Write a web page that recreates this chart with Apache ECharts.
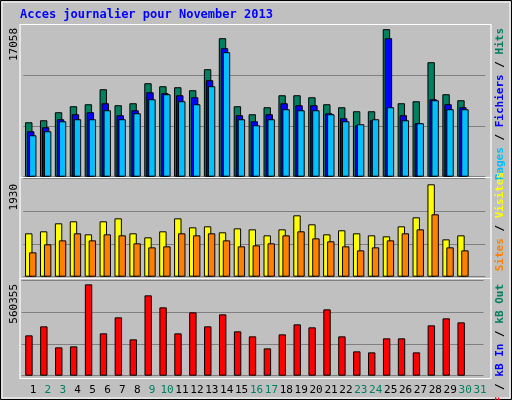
<!DOCTYPE html>
<html>
<head>
<meta charset="utf-8">
<script src="https://cdn.jsdelivr.net/npm/echarts@6/dist/echarts.min.js"></script>
<style>
  html, body { margin: 0; padding: 0; background: #c0c0c0; }
  #chart { width: 512px; height: 400px; }
</style>
</head>
<body>
<div id="chart"></div>
<script>
const days = Array.from({ length: 31 }, (_, i) => String(i + 1));
const weekendDays = [2, 3, 9, 10, 16, 17, 23, 24, 30, 31];

const hits = [6295, 6527, 7453, 8147, 8378, 10114, 8263, 8494, 10809, 10461, 10346, 9999, 12429, 16016, 8147,
  7221, 8031, 9420, 9420, 9188, 8378, 8031, 7568, 7568, 17058, 8494, 8726, 13239, 9536, 8841, null];
const files = [5254, 5717, 6643, 7221, 7453, 8494, 7106, 7684, 9767, 9652, 9420, 9188, 11156, 14859, 7106,
  6411, 7221, 8494, 8263, 8263, 7337, 6758, 5948, 6527, 16016, 7106, 6180, 8957, 8378, 8031, null];
const pages = [4791, 5254, 6411, 6643, 6643, 7684, 6643, 7337, 8957, 9536, 8726, 8378, 10461, 14396, 6643,
  5948, 6643, 7800, 7684, 7684, 7221, 6411, 6064, 6643, 8031, 6527, 6180, 8841, 7800, 7800, null];
const visits = [906, 948, 1115, 1157, 885, 1157, 1219, 906, 822, 948, 1219, 1031, 1052, 927, 1010,
  989, 864, 989, 1282, 1094, 885, 969, 906, 864, 843, 1052, 1240, 1930, 780, 864, null];
const sites = [509, 676, 759, 906, 759, 885, 864, 697, 613, 634, 906, 864, 906, 759, 634,
  655, 697, 864, 948, 801, 739, 634, 550, 613, 759, 906, 989, 1303, 613, 550, null];
const kbytes = [247454, 302671, 173831, 179967, 560355, 259725, 357890, 222915, 492869, 419246, 259725, 388566,
  302671, 376296, 271996, 241319, 167696, 253590, 314942, 296536, 406975, 241319, 149291, 143156, 229050,
  229050, 143156, 308806, 351755, 327214, null];

const maxLabels = ['17058', '1930', '560355'];
const axisMax = [17600, 2047, 587000];

const mono = 'DejaVu Sans Mono';
const chart = echarts.init(document.getElementById('chart'));

const grids = [
  { left: 23.3, width: 462, top: 24.5, height: 152.2 },
  { left: 23.3, width: 462, top: 178.7, height: 98 },
  { left: 21.5, width: 462, top: 280, height: 95.7 },
  { left: 25.5, width: 462, top: 380, height: 1 },
];

const xAxis = grids.map((g, i) => ({
  type: 'category',
  gridIndex: i,
  data: days,
  axisLine: { show: false },
  axisTick: { show: false },
  axisLabel: i === 3 ? {
    show: true,
    interval: 0,
    fontFamily: mono,
    fontSize: 11,
    margin: 4,
    color: (v) => (weekendDays.includes(Number(v)) ? '#008060' : '#000000'),
  } : { show: false },
}));

const yAxis = grids.map((g, i) => ({
  type: 'value',
  gridIndex: i,
  min: 0,
  max: i < 3 ? axisMax[i] : 1,
  interval: i < 3 ? axisMax[i] / 3 : 1,
  axisLabel: { show: false },
  axisLine: { show: false },
  axisTick: { show: false },
  splitLine: { show: i < 3, lineStyle: { color: '#808080', width: 1 } },
}));

const bar = (name, data, color, axis, extra) => ({
  name,
  type: 'bar',
  data,
  xAxisIndex: axis,
  yAxisIndex: axis,
  barWidth: 7.4,
  itemStyle: { color, borderColor: '#000000', borderWidth: 1 },
  silent: true,
  ...extra,
});

const panelRects = [[20, 24.5, 471, 153], [20, 177.5, 471, 101], [20, 278.5, 471, 100]].map(([x, y, w, h]) => ({
  type: 'rect',
  shape: { x, y, width: w, height: h },
  style: { fill: 'none', stroke: '#ffffff', lineWidth: 1.2 },
  z: 10,
}));

const sideText = (y, rich, text) => ({
  type: 'text',
  x: 500,
  y,
  rotation: Math.PI / 2,
  style: { text, align: 'right', verticalAlign: 'middle', rich, fontFamily: mono, fontSize: 11, fontWeight: 'bold' },
});

const richStyle = (c) => ({ fill: c, fontFamily: mono, fontSize: 11, fontWeight: 'bold' });

chart.setOption({
  backgroundColor: '#c0c0c0',
  animation: false,
  grid: grids,
  xAxis,
  yAxis,
  series: [
    bar('Hits', hits, '#008060', 0, { barGap: '-73%' }),
    bar('Fichiers', files, '#0000ff', 0, { barGap: '-73%' }),
    bar('Pages', pages, '#00c0ff', 0, { barGap: '-73%' }),
    bar('Visites', visits, '#ffff00', 1, { barGap: '-46%' }),
    bar('Sites', sites, '#ff8000', 1, { barGap: '-46%' }),
    bar('kB F', kbytes, '#ff0000', 2),
  ],
  graphic: [
    { type: 'rect', shape: { x: 0.5, y: 0.5, width: 511, height: 399 }, style: { fill: 'none', stroke: '#000000', lineWidth: 1 } },
    { type: 'rect', shape: { x: 2, y: 2, width: 508, height: 396 }, style: { fill: 'none', stroke: '#ffffff', lineWidth: 1 } },
    { type: 'text', x: 20, y: 15, style: { text: 'Acces journalier pour November 2013', fill: '#0000ff', fontFamily: mono, fontSize: 12, fontWeight: 'bold', verticalAlign: 'middle' } },
    ...panelRects,
    ...maxLabels.map((t, i) => ({
      type: 'text',
      x: 14,
      y: [28, 184, 284][i],
      rotation: Math.PI / 2,
      style: { text: t, align: 'right', verticalAlign: 'middle', fill: '#000000', fontFamily: mono, fontSize: 11 },
    })),
    sideText(28, { p: richStyle('#00c0ff'), s: richStyle('#000000'), f: richStyle('#0000ff'), h: richStyle('#008060') },
      '{p|Pages}{s| / }{f|Fichiers}{s| / }{h|Hits}'),
    sideText(172, { o: richStyle('#ff8000'), s: richStyle('#000000'), y: richStyle('#ffff00') },
      '{o|Sites}{s| / }{y|Visites}'),
    sideText(284, { r: richStyle('#ff0000'), s: richStyle('#000000'), b: richStyle('#0000ff'), g: richStyle('#008060') },
      '{r|kB F}{s| / }{b|kB In}{s| / }{g|kB Out}'),
  ],
});
</script>
</body>
</html>
